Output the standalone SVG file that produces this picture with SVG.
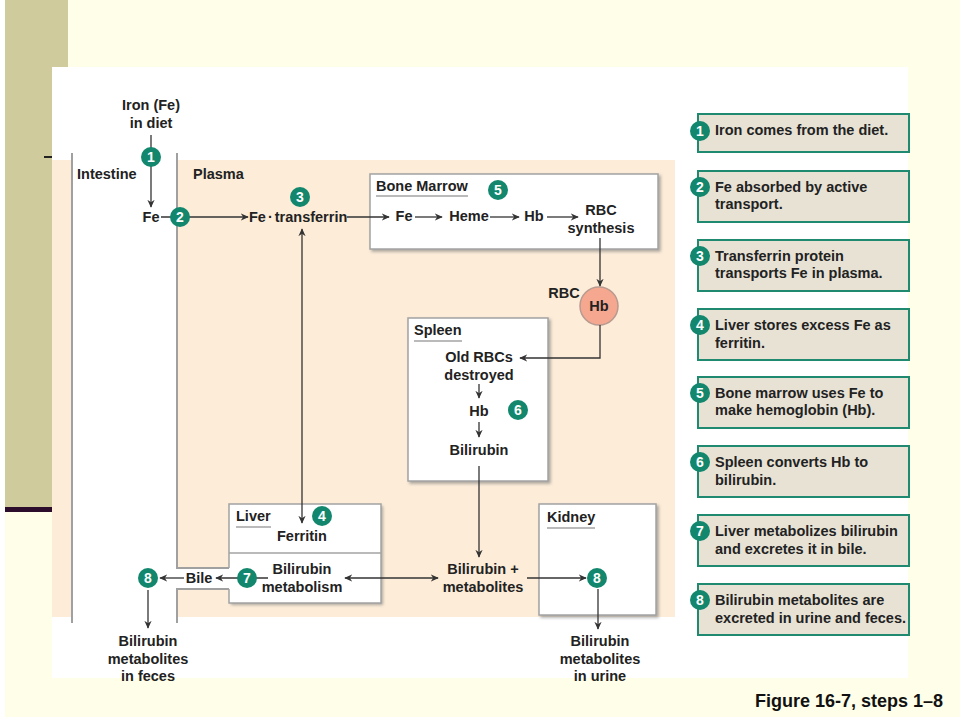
<svg xmlns="http://www.w3.org/2000/svg" width="960" height="717" viewBox="0 0 960 717">
<defs>
<style>
text{font-family:"Liberation Sans",Arial,sans-serif;font-weight:bold;font-size:14.5px;fill:#222}
.c{text-anchor:middle}
.num{font-family:"Liberation Sans",Arial,sans-serif;font-weight:bold;font-size:14px;fill:#fff;text-anchor:middle}
.box{fill:#fff;stroke:#a3a3a3;stroke-width:1.5}
.wall{fill:none;stroke:#a0a0a0;stroke-width:2}
.ln{fill:none;stroke:#333;stroke-width:1.3}
.ul{stroke:#777;stroke-width:1.2}
.leg{fill:#e8e2d5;stroke:#1f8a70;stroke-width:2}
.badge{fill:#12876d}
</style>
<marker id="ah" viewBox="0 0 10 10" refX="9" refY="5" markerWidth="8" markerHeight="8" markerUnits="userSpaceOnUse" orient="auto-start-reverse">
<path d="M0,0.5 L10,5 L0,9.5 L3,5 z" fill="#333"/>
</marker>
<filter id="sh" x="-10%" y="-10%" width="130%" height="130%">
<feDropShadow dx="2" dy="2" stdDeviation="1.8" flood-color="#777" flood-opacity="0.6"/>
</filter>
</defs>

<!-- background -->
<rect x="0" y="0" width="960" height="717" fill="#fffee8"/>
<rect x="0" y="0" width="5" height="717" fill="#fff"/>
<rect x="5" y="0" width="63" height="507" fill="#cfcb9c"/>
<rect x="5" y="507" width="47" height="5" fill="#2c0e2c"/>
<rect x="44" y="156" width="8" height="2" fill="#222"/>
<rect x="52" y="67" width="856" height="611" fill="#fff"/>
<rect x="52" y="160" width="623" height="457" fill="#fcecd8"/>
<rect x="72" y="160" width="105" height="457" fill="#fff"/>
<rect x="177" y="568" width="52" height="21" fill="#fff"/>

<!-- intestine walls -->
<g id="intestine">
<path class="wall" d="M72,153 V623"/>
<path class="wall" d="M177,153 V568 H229"/>
<path class="wall" d="M229,589 H177 V623"/>
<text x="77" y="179">Intestine</text>
</g>
<g id="plasma"><text x="193" y="179">Plasma</text></g>

<!-- nodes -->
<g id="diet">
<text class="c" x="151" y="110">Iron (Fe)</text>
<text class="c" x="151" y="128">in diet</text>
</g>
<g id="fe-intestine"><text class="c" x="151" y="222">Fe</text></g>
<g id="fe-transferrin"><text x="249" y="222">Fe<tspan dx="2">·</tspan><tspan dx="2">transferrin</tspan></text></g>

<g id="bone-marrow">
<rect class="box" filter="url(#sh)" x="370" y="174" width="288" height="75"/>
<text x="376" y="191">Bone Marrow</text>
<line class="ul" x1="376" y1="196" x2="468" y2="196"/>
<text class="c" x="404" y="221">Fe</text>
<text class="c" x="469" y="221">Heme</text>
<text class="c" x="534" y="221">Hb</text>
<text class="c" x="601" y="215">RBC</text>
<text class="c" x="601" y="233">synthesis</text>
</g>

<g id="rbc">
<circle cx="599" cy="306" r="19" fill="#f5a88f" stroke="#b89a90" stroke-width="1.5"/>
<text class="c" x="599" y="311">Hb</text>
<text class="c" x="564" y="298">RBC</text>
</g>

<g id="spleen">
<rect class="box" filter="url(#sh)" x="408" y="318" width="140" height="163"/>
<text x="414" y="335">Spleen</text>
<line class="ul" x1="414" y1="341" x2="462" y2="341"/>
<text class="c" x="479" y="362">Old RBCs</text>
<text class="c" x="479" y="380">destroyed</text>
<text class="c" x="479" y="416">Hb</text>
<text class="c" x="479" y="455">Bilirubin</text>
</g>

<g id="liver">
<rect x="229" y="504" width="152" height="99" fill="#fff" filter="url(#sh)"/>
<rect x="226" y="569" width="6" height="19" fill="#fff"/>
<path d="M229,568 V504 H381 V603 H229 V589" fill="none" stroke="#a3a3a3" stroke-width="1.5"/>
<line x1="229" y1="553" x2="381" y2="553" stroke="#a3a3a3" stroke-width="1.5"/>
<text x="236" y="521">Liver</text>
<line class="ul" x1="236" y1="527" x2="271" y2="527"/>
<text class="c" x="302" y="541">Ferritin</text>
<text class="c" x="302" y="574">Bilirubin</text>
<text class="c" x="302" y="592">metabolism</text>
</g>

<g id="bilirubin-metabolites">
<text class="c" x="483" y="574">Bilirubin +</text>
<text class="c" x="483" y="592">metabolites</text>
</g>

<g id="kidney">
<rect class="box" filter="url(#sh)" x="539" y="504" width="117" height="111"/>
<text x="547" y="522">Kidney</text>
<line class="ul" x1="547" y1="528" x2="595" y2="528"/>
</g>

<g id="bile"><text class="c" x="199" y="583">Bile</text></g>

<g id="feces">
<text class="c" x="148" y="646">Bilirubin</text>
<text class="c" x="148" y="664">metabolites</text>
<text class="c" x="148" y="681">in feces</text>
</g>
<g id="urine">
<text class="c" x="600" y="646">Bilirubin</text>
<text class="c" x="600" y="664">metabolites</text>
<text class="c" x="600" y="681">in urine</text>
</g>

<!-- connectors -->
<g id="connectors">
<path class="ln" d="M151,135 V207" marker-end="url(#ah)"/>
<path class="ln" d="M161,217 H248" marker-end="url(#ah)"/>
<path class="ln" d="M347,217 H389" marker-end="url(#ah)"/>
<path class="ln" d="M415,217 H442" marker-end="url(#ah)"/>
<path class="ln" d="M490,217 H519" marker-end="url(#ah)"/>
<path class="ln" d="M547,217 H578" marker-end="url(#ah)"/>
<path class="ln" d="M600,238 V286" marker-end="url(#ah)"/>
<path class="ln" d="M600,325 V358 H520" marker-end="url(#ah)"/>
<path class="ln" d="M479,384 V398" marker-end="url(#ah)"/>
<path class="ln" d="M479,422 V437" marker-end="url(#ah)"/>
<path class="ln" d="M479,466 V557" marker-end="url(#ah)"/>
<path class="ln" d="M302,229 V523" marker-start="url(#ah)" marker-end="url(#ah)"/>
<path class="ln" d="M345,578 H438" marker-start="url(#ah)" marker-end="url(#ah)"/>
<path class="ln" d="M527,578 H586" marker-end="url(#ah)"/>
<path class="ln" d="M598,589 V629" marker-end="url(#ah)"/>
<path class="ln" d="M268,578 H216" marker-end="url(#ah)"/>
<path class="ln" d="M184,578 H160" marker-end="url(#ah)"/>
<path class="ln" d="M148,590 V628" marker-end="url(#ah)"/>
</g>

<!-- step badges -->
<g id="badges">
<circle class="badge" cx="151" cy="157" r="10"/><text class="num" x="151" y="162">1</text>
<circle class="badge" cx="180" cy="217" r="10"/><text class="num" x="180" y="222">2</text>
<circle class="badge" cx="300" cy="197" r="10"/><text class="num" x="300" y="202">3</text>
<circle class="badge" cx="322" cy="516" r="10"/><text class="num" x="322" y="521">4</text>
<circle class="badge" cx="498" cy="190" r="10"/><text class="num" x="498" y="195">5</text>
<circle class="badge" cx="518" cy="410" r="10"/><text class="num" x="518" y="415">6</text>
<circle class="badge" cx="247" cy="578" r="10"/><text class="num" x="247" y="583">7</text>
<circle class="badge" cx="148" cy="578" r="10"/><text class="num" x="148" y="583">8</text>
<circle class="badge" cx="597" cy="578" r="10"/><text class="num" x="597" y="583">8</text>
</g>

<!-- legend -->
<g id="legend-1">
<rect class="leg" x="698" y="114" width="211" height="38"/>
<circle class="badge" cx="700" cy="131" r="10"/><text class="num" x="700" y="136">1</text>
<text x="715" y="135">Iron comes from the diet.</text>
</g>
<g id="legend-2">
<rect class="leg" x="698" y="171" width="211" height="51"/>
<circle class="badge" cx="700" cy="187" r="10"/><text class="num" x="700" y="192">2</text>
<text x="715" y="192">Fe absorbed by active</text>
<text x="715" y="209">transport.</text>
</g>
<g id="legend-3">
<rect class="leg" x="698" y="240" width="211" height="51"/>
<circle class="badge" cx="700" cy="256" r="10"/><text class="num" x="700" y="261">3</text>
<text x="715" y="261">Transferrin protein</text>
<text x="715" y="278">transports Fe in plasma.</text>
</g>
<g id="legend-4">
<rect class="leg" x="698" y="309" width="211" height="51"/>
<circle class="badge" cx="700" cy="325" r="10"/><text class="num" x="700" y="330">4</text>
<text x="715" y="330">Liver stores excess Fe as</text>
<text x="715" y="348">ferritin.</text>
</g>
<g id="legend-5">
<rect class="leg" x="698" y="377" width="211" height="51"/>
<circle class="badge" cx="700" cy="393" r="10"/><text class="num" x="700" y="398">5</text>
<text x="715" y="398">Bone marrow uses Fe to</text>
<text x="715" y="415">make hemoglobin (Hb).</text>
</g>
<g id="legend-6">
<rect class="leg" x="698" y="446" width="211" height="51"/>
<circle class="badge" cx="700" cy="462" r="10"/><text class="num" x="700" y="467">6</text>
<text x="715" y="467">Spleen converts Hb to</text>
<text x="715" y="485">bilirubin.</text>
</g>
<g id="legend-7">
<rect class="leg" x="698" y="515" width="211" height="51"/>
<circle class="badge" cx="700" cy="531" r="10"/><text class="num" x="700" y="536">7</text>
<text x="715" y="536">Liver metabolizes bilirubin</text>
<text x="715" y="554">and excretes it in bile.</text>
</g>
<g id="legend-8">
<rect class="leg" x="698" y="584" width="211" height="51"/>
<circle class="badge" cx="700" cy="600" r="10"/><text class="num" x="700" y="605">8</text>
<text x="715" y="605">Bilirubin metabolites are</text>
<text x="715" y="623">excreted in urine and feces.</text>
</g>

<g id="caption"><text x="755" y="707" style="font-size:18px;fill:#111">Figure 16-7, steps 1–8</text></g>
</svg>
